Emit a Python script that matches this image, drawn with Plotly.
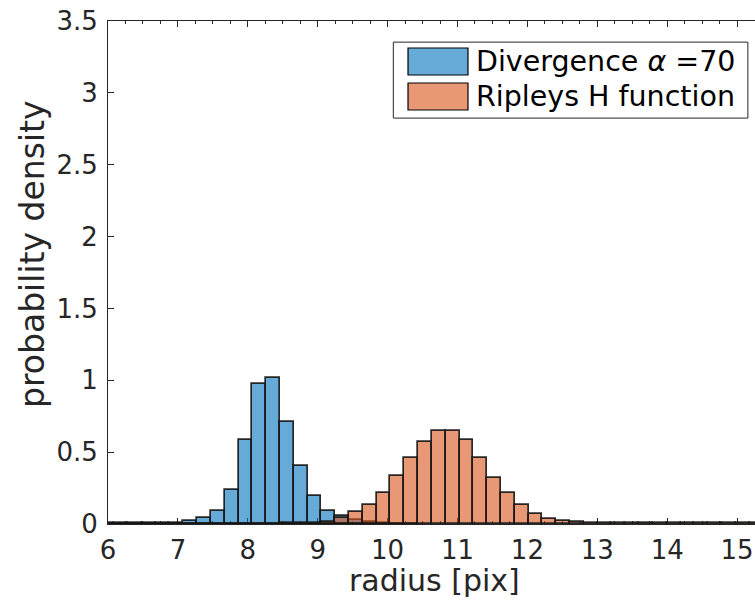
import plotly.graph_objects as go

# Histogram bin grid: first left edge and common bin width
BIN_START = 5.891
BIN_WIDTH = 0.1976

# Blue histogram: "Divergence alpha = 70" (probability density per bin, starting at bin 0)
divergence_density = [0.005, 0.005, 0.005, 0.005, 0.005, 0.006,
                      0.019, 0.040, 0.090, 0.237, 0.586, 0.976, 1.018, 0.713,
                      0.407, 0.196, 0.091, 0.058, 0.030, 0.012, 0.005, 0.003,
                      0.003]

# Orange histogram: "Ripleys H function" (starting at bin 0)
ripley_density = [0.0] * 11 + [
    0.003, 0.003, 0.004, 0.005, 0.008, 0.016, 0.044, 0.081, 0.132, 0.216,
    0.333, 0.458, 0.574, 0.649, 0.649, 0.586, 0.458, 0.323, 0.218, 0.130,
    0.068, 0.037, 0.023, 0.014, 0.008, 0.008, 0.007, 0.007, 0.004, 0.004,
    0.004, 0.004, 0.004, 0.004, 0.004, 0.004, 0.004, 0.004, 0.004]

x_ticks = [6, 7, 8, 9, 10, 11, 12, 13, 14, 15]
y_ticks = [0, 0.5, 1, 1.5, 2, 2.5, 3, 3.5]

labels = ["Divergence <i>α</i> =70", "Ripleys H function"]
x_title = "radius [pix]"
y_title = "probability density"
fills = ["rgba(0,114,189,0.6)", "rgba(217,83,25,0.6)"]

FONT = "DejaVu Sans, Verdana, sans-serif"
INK = "#262626"


def centers(values):
    return [BIN_START + (i + 0.5) * BIN_WIDTH for i in range(len(values))]


fig = go.Figure()
for vals, col, name in zip([divergence_density, ripley_density], fills, labels):
    fig.add_trace(go.Bar(
        x=centers(vals), y=vals, width=BIN_WIDTH, name=name,
        marker=dict(color=col, line=dict(color="rgba(20,20,20,0.9)", width=1.7)),
        showlegend=False,
    ))

# Custom legend box (MATLAB style, large swatches)
fig.add_shape(type="rect", xref="paper", yref="paper", x0=0.441, x1=0.989,
              y0=0.807, y1=0.958, line=dict(color=INK, width=1), fillcolor="white",
              layer="above")
sw_y = [(0.8926, 0.9463), (0.8231, 0.8767)]
for (y0, y1), col, name in zip(sw_y, fills, labels):
    fig.add_shape(type="rect", xref="paper", yref="paper", x0=0.4637, x1=0.5564,
                  y0=y0, y1=y1, line=dict(color="black", width=1.2), fillcolor=col,
                  layer="above")
    fig.add_annotation(xref="paper", yref="paper", x=0.5655, y=(y0 + y1) / 2,
                       text=name, showarrow=False, xanchor="left", yanchor="middle",
                       font=dict(family=FONT, size=28.5, color="black"))

# Axis titles
fig.add_annotation(xref="paper", yref="paper", x=0.505, y=-0.1123, text=x_title,
                   showarrow=False, xanchor="center", yanchor="middle",
                   font=dict(family=FONT, size=30, color=INK))
fig.add_annotation(xref="paper", yref="paper", x=-0.1159, y=0.5368, text=y_title,
                   showarrow=False, xanchor="center", yanchor="middle", textangle=-90,
                   font=dict(family=FONT, size=33, color=INK))

fig.update_layout(
    width=755, height=610, autosize=False,
    margin=dict(l=108, r=0, t=21, b=86),
    barmode="overlay", bargap=0,
    plot_bgcolor="white", paper_bgcolor="white",
    font=dict(family=FONT, color=INK),
)
fig.update_xaxes(
    range=[6, 15.256], tickvals=x_ticks, ticks="inside", ticklen=6, tickwidth=1,
    tickcolor=INK, showline=True, linecolor=INK, linewidth=1, mirror="ticks",
    showgrid=False, zeroline=False, layer="below traces", ticklabelstandoff=3,
    tickfont=dict(family=FONT, size=26, color=INK),
    minor=dict(dtick=0.25, tick0=6, ticks="inside", ticklen=3, tickcolor=INK, showgrid=False),
)
fig.update_yaxes(
    range=[0, 3.5], tickvals=y_ticks, ticks="inside", ticklen=6, tickwidth=1,
    tickcolor=INK, showline=True, linecolor=INK, linewidth=1,
    showgrid=False, zeroline=False, layer="below traces", ticklabelstandoff=4,
    tickfont=dict(family=FONT, size=26, color=INK),
)

fig.write_html("out.html")
